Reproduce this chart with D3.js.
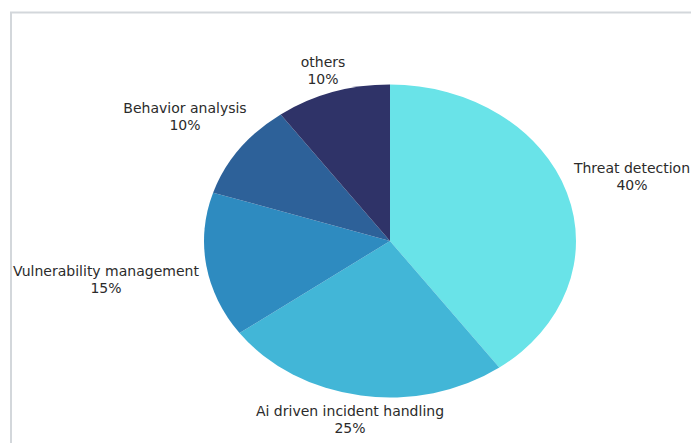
<!DOCTYPE html>
<html>
<head>
<meta charset="utf-8">
<script src="https://cdn.jsdelivr.net/npm/d3@7"></script>
<style>
  body { margin: 0; background: #fff; }
  svg { display: block; }
  text { font-family: "DejaVu Sans", sans-serif; font-size: 14px; fill: #2b2b2b; }
</style>
</head>
<body>
<div id="grafiek"></div>
<script>
// Categories and shares, clockwise from 12 o'clock
const categories = ["Threat detection", "Ai driven incident handling", "Vulnerability management", "Behavior analysis", "others"];
const shares = [40, 25, 15, 10, 10];
const colors = ["#69e3e8", "#42b6d7", "#2e8bc0", "#2d6199", "#2f3368"];

const width = 691, height = 443;
const cx = 390, cy = 241, rx = 186, ry = 156.5;

const svg = d3.select("#grafiek")
  .append("svg")
  .attr("width", width)
  .attr("height", height);

// light frame, open to the right and bottom
svg.append("path")
  .attr("d", `M11,${height} L11,12.5 L${width},12.5`)
  .attr("fill", "none")
  .attr("stroke", "#d3d7db")
  .attr("stroke-width", 2);

const data = categories.map((c, i) => ({ name: c, value: shares[i], color: colors[i] }));

const pie = d3.pie().value(d => d.value).sort(null);
const arcs = pie(data);

const arc = d3.arc().innerRadius(0).outerRadius(rx);

// ellipse: squash the circle vertically
const g = svg.append("g")
  .attr("transform", `translate(${cx},${cy}) scale(1,${ry / rx})`);

g.selectAll("path")
  .data(arcs)
  .enter()
  .append("path")
  .attr("d", arc)
  .attr("fill", d => d.data.color);

// label anchor points (outside the slices), placed by hand
const labelPos = {
  "Threat detection": [632, 173],
  "Ai driven incident handling": [350, 416],
  "Vulnerability management": [106, 276],
  "Behavior analysis": [185, 113],
  "others": [323, 67]
};

const labels = svg.append("g")
  .selectAll("text")
  .data(arcs)
  .enter()
  .append("text")
  .attr("text-anchor", "middle")
  .attr("transform", d => `translate(${labelPos[d.data.name]})`);

labels.append("tspan")
  .attr("x", 0)
  .attr("y", 0)
  .text(d => d.data.name);

labels.append("tspan")
  .attr("x", 0)
  .attr("y", 17)
  .text(d => d.data.value + "%");
</script>
</body>
</html>
